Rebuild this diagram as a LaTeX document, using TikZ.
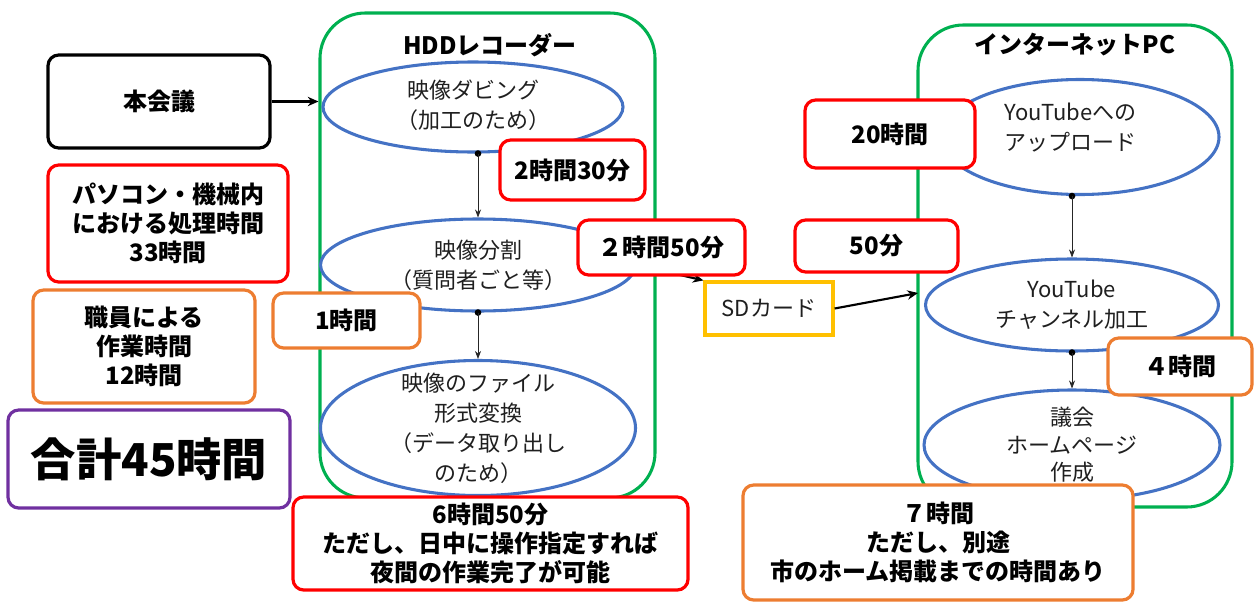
\documentclass[tikz,border=0pt]{standalone}
\usepackage{fontspec}
\setmainfont{Noto Sans CJK JP}
\usetikzlibrary{shapes.geometric,arrows.meta}
\definecolor{cgreen}{HTML}{00B050}
\definecolor{cblue}{HTML}{4472C4}
\definecolor{cred}{HTML}{FF0000}
\definecolor{corange}{HTML}{ED7D31}
\definecolor{cpurple}{HTML}{7030A0}
\definecolor{cyellow}{HTML}{FFC000}
\begin{document}
\begin{tikzpicture}[x=0.75pt,y=-0.75pt,
  container/.style={rectangle,draw=cgreen,line width=2.3pt,rounded corners=34pt,inner sep=0pt},
  ell/.style={ellipse,draw=cblue,line width=2.3pt,inner sep=0pt},
  etext/.style={align=center,font=\fontsize{16.5}{22.5}\selectfont,text=black!88,inner sep=0pt},
  ttl/.style={font=\bfseries\fontsize{18}{22}\selectfont,inner sep=0pt},
  box/.style={rectangle,rounded corners=8pt,line width=2.4pt,fill=white,align=center,
    font=\bfseries\fontsize{18}{22}\selectfont,inner sep=0pt},
  redbox/.style={box,draw=cred},
  orbox/.style={box,draw=corange},
  flow/.style={-{Stealth[length=6pt,width=4.5pt]},line width=0.5pt,black!85},
  bigflow/.style={-{Stealth[length=8pt,width=7pt]},line width=1.6pt,black},
  dot/.style={circle,fill=black,inner sep=0pt,minimum size=5pt}
]
\useasboundingbox (0,0) rectangle (1255,603);

% containers
\node[container,minimum width=335*0.75pt,minimum height=485*0.75pt] (hdd) at (487.5,255.5) {};
\node[container,minimum width=314*0.75pt,minimum height=482*0.75pt] (pc) at (1075,266) {};
\node[ttl] (hddT) at (490,45) {HDDレコーダー};
\node[ttl] (pcT) at (1075,45) {インターネットPC};

% ellipses
\node[ell,minimum width=300*0.75pt,minimum height=90*0.75pt] (A) at (473,107) {};
\node[ell,minimum width=315*0.75pt,minimum height=92*0.75pt] (B) at (478,265) {};
\node[ell,minimum width=315*0.75pt,minimum height=135*0.75pt] (C) at (478,428) {};
\node[ell,minimum width=278*0.75pt,minimum height=115*0.75pt] (D) at (1080,137) {};
\node[ell,minimum width=293*0.75pt,minimum height=92*0.75pt] (E) at (1072,305) {};
\node[ell,minimum width=296*0.75pt,minimum height=110*0.75pt] (F) at (1072,445) {};

\node[etext] (At) at ([yshift=1pt]A.center) {映像ダビング\\（加工のため）};
\node[etext] (Bt) at (B.center) {映像分割\\（質問者ごと等）};
\node[etext] (Ct) at (C.center) {映像のファイル\\形式変換\\（データ取り出し\\のため）};
\node[etext] (Dt) at ([xshift=-7pt,yshift=7pt]D.center) {YouTubeへの\\アップロード};
\node[etext] (Et) at (E.center) {YouTube\\チャンネル加工};
\node[etext,font=\fontsize{16.5}{20.5}\selectfont] (Ft) at (F.center) {議会\\ホームページ\\作成};

% flow arrows inside containers
\node[dot] (dA) at (B.north |- A.south) {};
\draw[flow] (dA.center) -- (B.north);
\node[dot] (dB) at (C.north |- B.south) {};
\draw[flow] (dB.center) -- (C.north);
\node[dot] (dD) at (E.north |- D.south) {};
\draw[flow] (dD.center) -- (E.north);
\node[dot] (dE) at (F.north |- E.south) {};
\draw[flow] (dE.center) -- (F.north);

% left boxes
\node[box,draw=black,minimum width=222*0.75pt,minimum height=93*0.75pt] (hon) at (159,101.5) {本会議};
\draw[bigflow] (hon.east) -- (hon.east -| hdd.west);
\node[redbox,minimum width=240*0.75pt,minimum height=117*0.75pt] (pcbox) at (168,223.5) {パソコン・機械内\\における処理時間\\33時間};
\node[orbox,minimum width=222*0.75pt,minimum height=113*0.75pt] (staff) at (144,346.5) {職員による\\作業時間\\12時間};
\node[box,draw=cpurple,minimum width=282*0.75pt,minimum height=98*0.75pt,font=\bfseries\fontsize{34}{40}\selectfont] (total) at (149,459) {合計45時間};

% SD card and its arrows
\node[rectangle,draw=cyellow,line width=2.4pt,fill=white,minimum width=128*0.75pt,minimum height=53*0.75pt,
  font=\fontsize{16.5}{20}\selectfont,text=black!88,inner sep=0pt] (sd) at (769,308.5) {SDカード};
\coordinate (pcin) at (918,293);
\draw[bigflow] (B.east) -- (sd.north west);
\draw[bigflow] (sd.east) -- (pcin);

% time labels
\node[redbox,minimum width=145*0.75pt,minimum height=60*0.75pt] (t1) at (572.5,170) {2時間30分};
\node[redbox,minimum width=167*0.75pt,minimum height=55*0.75pt] (t2) at (661.5,247.5) {２時間50分};
\node[orbox,minimum width=147*0.75pt,minimum height=55*0.75pt] (t3) at (346.5,320.5) {1時間};
\node[redbox,minimum width=395*0.75pt,minimum height=93*0.75pt] (t4) at (490.5,543.5) {6時間50分\\ただし、日中に操作指定すれば\\夜間の作業完了が可能};
\node[redbox,minimum width=170*0.75pt,minimum height=68*0.75pt] (t5) at (890,134) {20時間};
\node[redbox,minimum width=163*0.75pt,minimum height=52*0.75pt] (t6) at (876.5,246) {50分};
\node[orbox,minimum width=144*0.75pt,minimum height=57*0.75pt] (t7) at (1180,366.5) {４時間};
\node[orbox,minimum width=390*0.75pt,minimum height=115*0.75pt] (t8) at (938,542.5) {７時間\\ただし、別途\\市のホーム掲載までの時間あり};
\end{tikzpicture}
\end{document}
